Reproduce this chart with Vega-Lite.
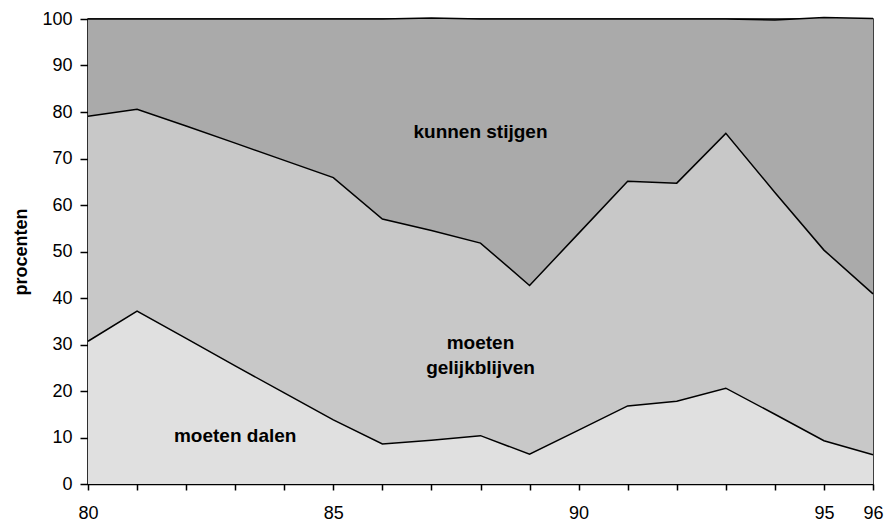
{
  "$schema": "https://vega.github.io/schema/vega-lite/v6.json",
  "autosize": {"type": "none"},
  "padding": {"left": 88, "top": 19, "right": 17, "bottom": 43},
  "width": 785,
  "height": 465,
  "background": "white",
  "config": {
    "font": "Liberation Sans",
    "view": {"stroke": "#000", "strokeWidth": 1.5},
    "axis": {"grid": false, "domainColor": "#000", "tickColor": "#000", "labelColor": "#000", "titleColor": "#000", "domainWidth": 1.5, "tickWidth": 1.5, "labelFont": "Liberation Sans", "titleFont": "Liberation Sans"}
  },
  "datasets": {
    "series": [
      {"year": 80, "cat": "moeten dalen", "o": 1, "value": 30.7},
      {"year": 81, "cat": "moeten dalen", "o": 1, "value": 37.2},
      {"year": 82, "cat": "moeten dalen", "o": 1, "value": 31.3},
      {"year": 83, "cat": "moeten dalen", "o": 1, "value": 25.4},
      {"year": 84, "cat": "moeten dalen", "o": 1, "value": 19.6},
      {"year": 85, "cat": "moeten dalen", "o": 1, "value": 13.8},
      {"year": 86, "cat": "moeten dalen", "o": 1, "value": 8.6},
      {"year": 87, "cat": "moeten dalen", "o": 1, "value": 9.4},
      {"year": 88, "cat": "moeten dalen", "o": 1, "value": 10.4},
      {"year": 89, "cat": "moeten dalen", "o": 1, "value": 6.4},
      {"year": 90, "cat": "moeten dalen", "o": 1, "value": 11.6},
      {"year": 91, "cat": "moeten dalen", "o": 1, "value": 16.8},
      {"year": 92, "cat": "moeten dalen", "o": 1, "value": 17.8},
      {"year": 93, "cat": "moeten dalen", "o": 1, "value": 20.6},
      {"year": 94, "cat": "moeten dalen", "o": 1, "value": 15.0},
      {"year": 95, "cat": "moeten dalen", "o": 1, "value": 9.3},
      {"year": 96, "cat": "moeten dalen", "o": 1, "value": 6.3},
      {"year": 80, "cat": "moeten gelijkblijven", "o": 2, "value": 48.4},
      {"year": 81, "cat": "moeten gelijkblijven", "o": 2, "value": 43.4},
      {"year": 82, "cat": "moeten gelijkblijven", "o": 2, "value": 45.7},
      {"year": 83, "cat": "moeten gelijkblijven", "o": 2, "value": 47.9},
      {"year": 84, "cat": "moeten gelijkblijven", "o": 2, "value": 50.0},
      {"year": 85, "cat": "moeten gelijkblijven", "o": 2, "value": 52.1},
      {"year": 86, "cat": "moeten gelijkblijven", "o": 2, "value": 48.4},
      {"year": 87, "cat": "moeten gelijkblijven", "o": 2, "value": 45.1},
      {"year": 88, "cat": "moeten gelijkblijven", "o": 2, "value": 41.4},
      {"year": 89, "cat": "moeten gelijkblijven", "o": 2, "value": 36.3},
      {"year": 90, "cat": "moeten gelijkblijven", "o": 2, "value": 42.3},
      {"year": 91, "cat": "moeten gelijkblijven", "o": 2, "value": 48.3},
      {"year": 92, "cat": "moeten gelijkblijven", "o": 2, "value": 46.9},
      {"year": 93, "cat": "moeten gelijkblijven", "o": 2, "value": 54.8},
      {"year": 94, "cat": "moeten gelijkblijven", "o": 2, "value": 47.7},
      {"year": 95, "cat": "moeten gelijkblijven", "o": 2, "value": 41.0},
      {"year": 96, "cat": "moeten gelijkblijven", "o": 2, "value": 34.6},
      {"year": 80, "cat": "kunnen stijgen", "o": 3, "value": 20.9},
      {"year": 81, "cat": "kunnen stijgen", "o": 3, "value": 19.4},
      {"year": 82, "cat": "kunnen stijgen", "o": 3, "value": 23.0},
      {"year": 83, "cat": "kunnen stijgen", "o": 3, "value": 26.7},
      {"year": 84, "cat": "kunnen stijgen", "o": 3, "value": 30.4},
      {"year": 85, "cat": "kunnen stijgen", "o": 3, "value": 34.1},
      {"year": 86, "cat": "kunnen stijgen", "o": 3, "value": 43.0},
      {"year": 87, "cat": "kunnen stijgen", "o": 3, "value": 45.7},
      {"year": 88, "cat": "kunnen stijgen", "o": 3, "value": 48.2},
      {"year": 89, "cat": "kunnen stijgen", "o": 3, "value": 57.3},
      {"year": 90, "cat": "kunnen stijgen", "o": 3, "value": 46.1},
      {"year": 91, "cat": "kunnen stijgen", "o": 3, "value": 34.9},
      {"year": 92, "cat": "kunnen stijgen", "o": 3, "value": 35.3},
      {"year": 93, "cat": "kunnen stijgen", "o": 3, "value": 24.6},
      {"year": 94, "cat": "kunnen stijgen", "o": 3, "value": 37.1},
      {"year": 95, "cat": "kunnen stijgen", "o": 3, "value": 50.0},
      {"year": 96, "cat": "kunnen stijgen", "o": 3, "value": 59.2}
    ],
    "labels": [
      {"x": 88.0, "y": 75.7, "text": "kunnen stijgen"},
      {"x": 88.0, "y": 30.4, "text": "moeten\ngelijkblijven"},
      {"x": 83.0, "y": 10.3, "text": "moeten dalen"}
    ]
  },
  "layer": [
    {
      "data": {"name": "series"},
      "mark": {"type": "area", "opacity": 1, "fillOpacity": 1},
      "encoding": {
        "x": {
          "field": "year", "type": "quantitative",
          "scale": {"domain": [80, 96], "nice": false, "zero": false},
          "axis": {
            "title": null,
            "values": [80, 81, 82, 83, 84, 85, 86, 87, 88, 89, 90, 91, 92, 93, 94, 95, 96],
            "labelExpr": "indexof([80, 85, 90, 95, 96], datum.value) >= 0 ? datum.label : ''",
            "labelFontSize": 18,
            "tickSize": 6,
            "labelPadding": 14,
            "labelFlush": false,
            "labelOverlap": false
          }
        },
        "y": {
          "field": "value", "type": "quantitative", "stack": "zero",
          "scale": {"domain": [0, 100], "nice": false},
          "axis": {
            "title": "procenten",
            "titleFontSize": 18,
            "titleFontWeight": "bold",
            "titlePadding": 11,
            "values": [0, 10, 20, 30, 40, 50, 60, 70, 80, 90, 100],
            "labelFontSize": 18,
            "tickSize": 8,
            "labelPadding": 8
          }
        },
        "color": {
          "field": "cat", "type": "nominal",
          "scale": {"domain": ["moeten dalen", "moeten gelijkblijven", "kunnen stijgen"], "range": ["#E0E0E0", "#C8C8C8", "#AAAAAA"]},
          "legend": null
        },
        "order": {"field": "o", "type": "quantitative"}
      }
    },
    {
      "data": {"name": "series"},
      "mark": {"type": "line", "color": "#000", "strokeWidth": 1.5},
      "encoding": {
        "x": {"field": "year", "type": "quantitative"},
        "y": {"field": "value", "type": "quantitative", "stack": "zero"},
        "detail": {"field": "cat", "type": "nominal"},
        "order": {"field": "o", "type": "quantitative"}
      }
    },
    {
      "data": {"name": "labels"},
      "mark": {"type": "text", "font": "Liberation Sans", "fontWeight": "bold", "fontSize": 19, "align": "center", "baseline": "middle", "lineBreak": "\n", "lineHeight": 25, "color": "#000"},
      "encoding": {
        "x": {"field": "x", "type": "quantitative"},
        "y": {"field": "y", "type": "quantitative"},
        "text": {"field": "text", "type": "nominal"}
      }
    }
  ]
}
